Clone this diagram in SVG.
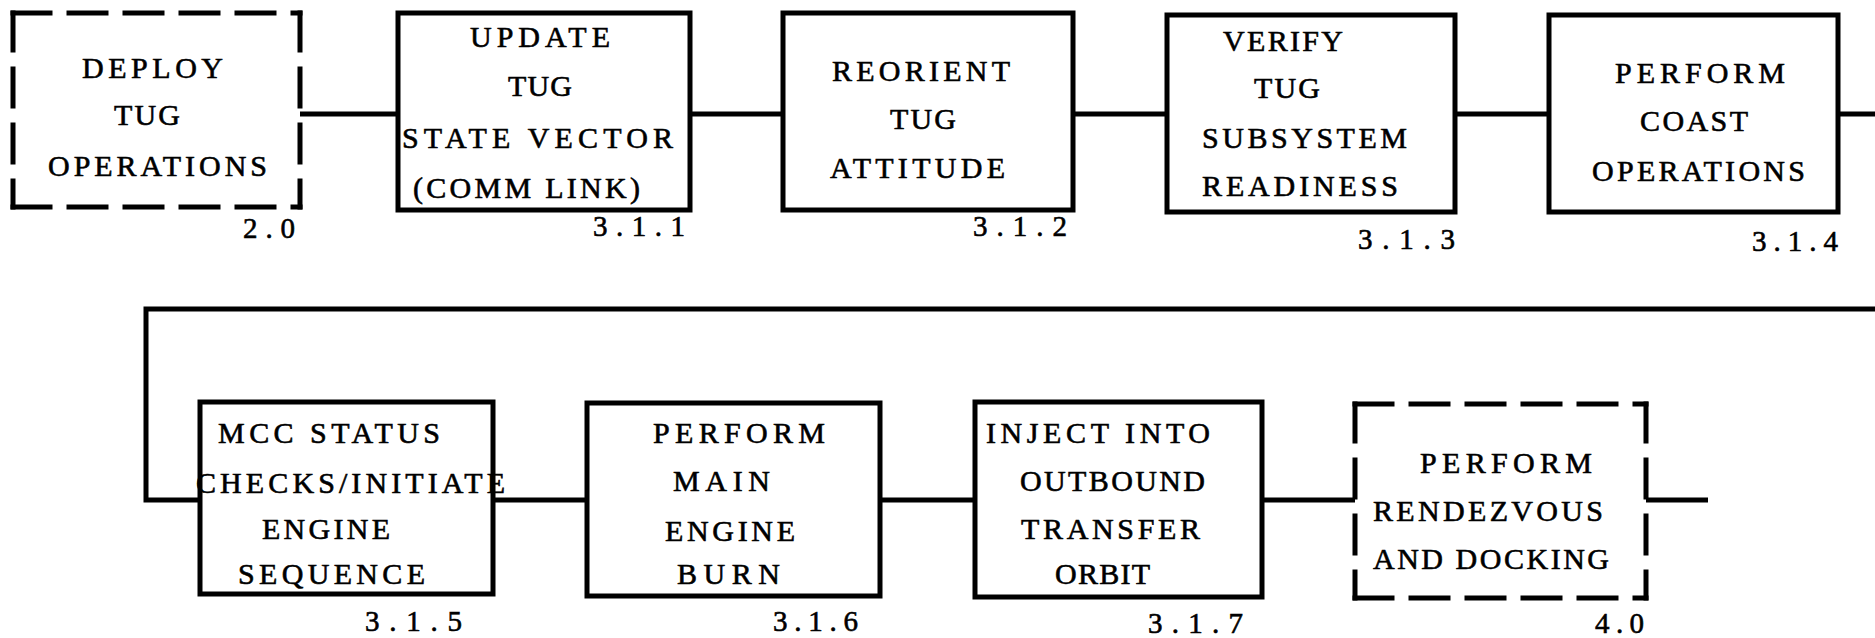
<svg xmlns="http://www.w3.org/2000/svg" width="1875" height="638" viewBox="0 0 1875 638">
<style>
.box{fill:none;stroke:#000;stroke-width:5}
.dash{fill:none;stroke:#000;stroke-width:5;stroke-dasharray:37 19;stroke-linecap:square}
.conn{fill:none;stroke:#000;stroke-width:5}
.t{font-family:"Liberation Serif","Times New Roman",serif;font-size:30px;fill:#000;stroke:#000;stroke-width:0.6}
.n{font-family:"Liberation Serif","Times New Roman",serif;font-size:29px;fill:#000;stroke:#000;stroke-width:0.6}
</style>
<rect width="1875" height="638" fill="#fff"/>
<g id="connectors">
<line class="conn" x1="300" y1="114" x2="398" y2="114"/>
<line class="conn" x1="690" y1="114" x2="783" y2="114"/>
<line class="conn" x1="1073" y1="114" x2="1167" y2="114"/>
<line class="conn" x1="1455" y1="114" x2="1549" y2="114"/>
<line class="conn" x1="1838" y1="114" x2="1875" y2="114"/>
<polyline class="conn" points="1875,309 146,309 146,500 200,500"/>
<line class="conn" x1="493" y1="500" x2="587" y2="500"/>
<line class="conn" x1="880" y1="500" x2="975" y2="500"/>
<line class="conn" x1="1262" y1="500" x2="1355" y2="500"/>
<line class="conn" x1="1646" y1="500" x2="1708" y2="500"/>
</g>
<g id="n2_0">
<path class="dash" d="M13,13 H300"/>
<path class="dash" d="M300,13 V207"/>
<path class="dash" d="M13,207 H300"/>
<path class="dash" d="M13,13 V207"/>
<text class="t" x="82" y="78" textLength="141" lengthAdjust="spacing">DEPLOY</text>
<text class="t" x="114" y="125" textLength="66" lengthAdjust="spacing">TUG</text>
<text class="t" x="48" y="176" textLength="219" lengthAdjust="spacing">OPERATIONS</text>
<text class="n" x="243" y="238" textLength="52" lengthAdjust="spacing">2.0</text>
</g>
<g id="n3_1_1">
<rect class="box" x="398" y="13" width="292" height="197"/>
<text class="t" x="470" y="47" textLength="140" lengthAdjust="spacing">UPDATE</text>
<text class="t" x="508" y="96" textLength="64" lengthAdjust="spacing">TUG</text>
<text class="t" x="402" y="148" textLength="271" lengthAdjust="spacing">STATE VECTOR</text>
<text class="t" x="413" y="198" textLength="227" lengthAdjust="spacing">(COMM LINK)</text>
<text class="n" x="593" y="236" textLength="92" lengthAdjust="spacing">3.1.1</text>
</g>
<g id="n3_1_2">
<rect class="box" x="783" y="13" width="290" height="197"/>
<text class="t" x="832" y="81" textLength="178" lengthAdjust="spacing">REORIENT</text>
<text class="t" x="890" y="129" textLength="66" lengthAdjust="spacing">TUG</text>
<text class="t" x="830" y="178" textLength="175" lengthAdjust="spacing">ATTITUDE</text>
<text class="n" x="973" y="236" textLength="94" lengthAdjust="spacing">3.1.2</text>
</g>
<g id="n3_1_3">
<rect class="box" x="1167" y="15" width="288" height="197"/>
<text class="t" x="1223" y="51" textLength="120" lengthAdjust="spacing">VERIFY</text>
<text class="t" x="1254" y="98" textLength="66" lengthAdjust="spacing">TUG</text>
<text class="t" x="1202" y="148" textLength="205" lengthAdjust="spacing">SUBSYSTEM</text>
<text class="t" x="1202" y="196" textLength="196" lengthAdjust="spacing">READINESS</text>
<text class="n" x="1358" y="249" textLength="97" lengthAdjust="spacing">3.1.3</text>
</g>
<g id="n3_1_4">
<rect class="box" x="1549" y="15" width="289" height="197"/>
<text class="t" x="1615" y="83" textLength="170" lengthAdjust="spacing">PERFORM</text>
<text class="t" x="1640" y="131" textLength="108" lengthAdjust="spacing">COAST</text>
<text class="t" x="1592" y="181" textLength="213" lengthAdjust="spacing">OPERATIONS</text>
<text class="n" x="1752" y="251" textLength="86" lengthAdjust="spacing">3.1.4</text>
</g>
<g id="n3_1_5">
<rect class="box" x="200" y="402" width="293" height="192"/>
<text class="t" x="218" y="443" textLength="222" lengthAdjust="spacing">MCC STATUS</text>
<text class="t" x="196" y="493" textLength="309" lengthAdjust="spacing">CHECKS/INITIATE</text>
<text class="t" x="262" y="539" textLength="128" lengthAdjust="spacing">ENGINE</text>
<text class="t" x="238" y="584" textLength="187" lengthAdjust="spacing">SEQUENCE</text>
<text class="n" x="365" y="631" textLength="97" lengthAdjust="spacing">3.1.5</text>
</g>
<g id="n3_1_6">
<rect class="box" x="587" y="403" width="293" height="193"/>
<text class="t" x="653" y="443" textLength="172" lengthAdjust="spacing">PERFORM</text>
<text class="t" x="673" y="491" textLength="97" lengthAdjust="spacing">MAIN</text>
<text class="t" x="665" y="541" textLength="130" lengthAdjust="spacing">ENGINE</text>
<text class="t" x="677" y="584" textLength="103" lengthAdjust="spacing">BURN</text>
<text class="n" x="773" y="631" textLength="85" lengthAdjust="spacing">3.1.6</text>
</g>
<g id="n3_1_7">
<rect class="box" x="975" y="402" width="287" height="195"/>
<text class="t" x="986" y="443" textLength="224" lengthAdjust="spacing">INJECT INTO</text>
<text class="t" x="1020" y="491" textLength="185" lengthAdjust="spacing">OUTBOUND</text>
<text class="t" x="1021" y="539" textLength="179" lengthAdjust="spacing">TRANSFER</text>
<text class="t" x="1055" y="584" textLength="95" lengthAdjust="spacing">ORBIT</text>
<text class="n" x="1148" y="633" textLength="95" lengthAdjust="spacing">3.1.7</text>
</g>
<g id="n4_0">
<path class="dash" d="M1355,404 H1646"/>
<path class="dash" d="M1646,404 V598"/>
<path class="dash" d="M1355,598 H1646"/>
<path class="dash" d="M1355,404 V598"/>
<text class="t" x="1420" y="473" textLength="172" lengthAdjust="spacing">PERFORM</text>
<text class="t" x="1373" y="521" textLength="230" lengthAdjust="spacing">RENDEZVOUS</text>
<text class="t" x="1373" y="569" textLength="236" lengthAdjust="spacing">AND DOCKING</text>
<text class="n" x="1595" y="633" textLength="49" lengthAdjust="spacing">4.0</text>
</g>
</svg>
